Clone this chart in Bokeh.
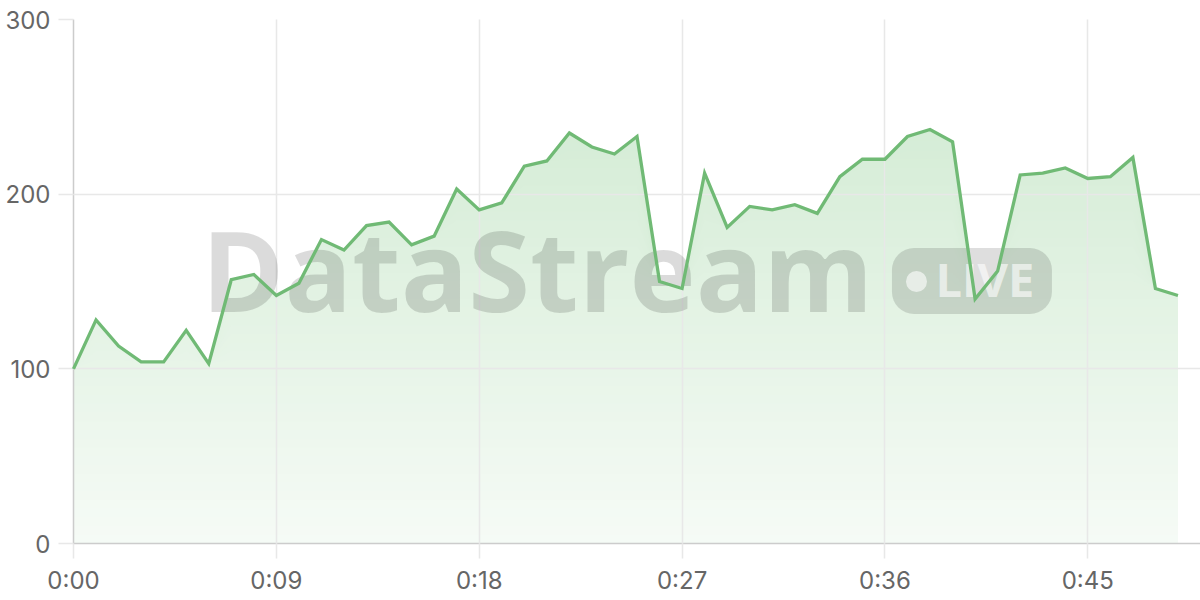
import numpy as np
from bokeh.plotting import figure
from bokeh.models import FixedTicker, Range1d
from bokeh.core.properties import value
from bokeh.embed import file_html
from bokeh.resources import INLINE

# ---- data -------------------------------------------------------------
seconds = list(range(50))
values = [100, 128, 113, 104, 104, 122, 103, 151, 154, 142,
          149, 174, 168, 182, 184, 171, 176, 203, 191, 195,
          216, 219, 235, 227, 223, 233, 150, 146, 212, 181,
          193, 191, 194, 189, 210, 220, 220, 233, 237, 230,
          140, 156, 211, 212, 215, 209, 210, 221, 146, 142]
x_ticks = [0, 9, 18, 27, 36, 45]
x_tick_labels = ["0:00", "0:09", "0:18", "0:27", "0:36", "0:45"]
y_ticks = [0, 100, 200, 300]
watermark_title = "DataStream"
watermark_badge = "LIVE"

X_START, X_END = 0, 50
Y_START, Y_END = 0, 300

GREEN_RGB = (102, 187, 106)
LINE_COLOR = "#70ba75"
A_TOP = 0.33   # fill opacity at top of plot area
A_BOT = 0.06   # fill opacity at bottom
LABEL_FONT = "Inter"
LABEL_COLOR = "#666666"
GRID_COLOR = "#e8e8e8"
AXIS_COLOR = "#cccccc"

p = figure(width=1200, height=600, output_backend="svg", toolbar_location=None,
           x_range=Range1d(X_START, X_END), y_range=Range1d(Y_START, Y_END),
           min_border_left=73, min_border_right=0, min_border_top=19,
           min_border_bottom=57)
p.outline_line_color = None
p.background_fill_color = "white"
p.border_fill_color = "white"

# ---- area fill with vertical gradient (stacked opaque layers) --------
v = np.array(values, dtype=float)
NL = 60
lows = np.linspace(Y_START, Y_END, NL + 1)[:-1]
for lo in lows:
    mid = lo + (Y_END - Y_START) / NL / 2
    a = A_BOT + (A_TOP - A_BOT) * (mid - Y_START) / (Y_END - Y_START)
    rgb = tuple(int(round(255 * (1 - a) + c * a)) for c in GREEN_RGB)
    col = "#%02x%02x%02x" % rgb
    y1 = np.minimum(v, lo)
    if np.all(y1 >= v):
        continue
    p.varea(x=seconds, y1=y1, y2=v, fill_color=col, fill_alpha=1.0)

# ---- watermark --------------------------------------------------------
p.text(x=[5.68], y=[157.2], text=[watermark_title],
       text_font=value("Open Sans"), text_font_size="112px",
       text_font_style="bold", text_color="black", text_alpha=0.14,
       text_align="left", text_baseline="alphabetic", level="annotation")
p.rect(x=[39.86], y=[150.3], width=160, height=66,
       width_units="screen", height_units="screen", border_radius=22,
       fill_color="black", fill_alpha=0.13, line_color=None, level="annotation")
p.scatter(x=[37.4], y=[150.0], size=21, marker="circle",
          fill_color="white", fill_alpha=0.6, line_color=None, level="annotation")
p.text(x=[38.24], y=[151.5], text=[watermark_badge],
       text_font=value("Open Sans"), text_font_size="47px",
       text_font_style="bold", text_color="white", text_alpha=0.6,
       text_align="left", text_baseline="alphabetic", level="annotation")

# ---- line ------------------------------------------------------------
p.line(x=seconds, y=values, line_color=LINE_COLOR, line_width=3.3,
       line_join="miter", level="overlay")

# ---- axes & grid -----------------------------------------------------
p.xaxis.ticker = FixedTicker(ticks=x_ticks)
p.xaxis.major_label_overrides = {t: l for t, l in zip(x_ticks, x_tick_labels)}
p.yaxis.ticker = FixedTicker(ticks=y_ticks)
p.xgrid.ticker = FixedTicker(ticks=x_ticks)
p.ygrid.ticker = FixedTicker(ticks=y_ticks)

for ax in (p.xaxis, p.yaxis):
    ax.axis_line_color = AXIS_COLOR
    ax.axis_line_width = 1.5
    ax.major_tick_line_color = GRID_COLOR
    ax.major_tick_line_width = 1.5
    ax.major_tick_out = 15
    ax.major_tick_in = 0
    ax.minor_tick_line_color = None
    ax.major_label_text_font = LABEL_FONT
    ax.major_label_text_font_size = "24px"
    ax.major_label_text_color = LABEL_COLOR
p.xaxis.major_label_standoff = 7
p.yaxis.major_label_standoff = 8

for g in (p.xgrid, p.ygrid):
    g.grid_line_color = GRID_COLOR
    g.grid_line_width = 1.5
    g.level = "guide"

open("out.html", "w").write(file_html(p, INLINE))
